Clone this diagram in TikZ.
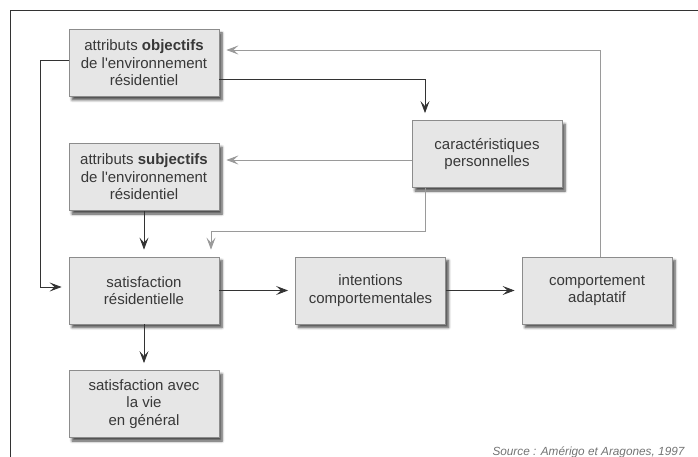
\documentclass[tikz,border=0pt]{standalone}
\usepackage{fontspec}
\setmainfont{Liberation Sans}[Ligatures=TeXOff]
\usetikzlibrary{arrows.meta,shadows,shadows.blur}
\definecolor{boxfill}{HTML}{E6E6E6}
\definecolor{boxdraw}{HTML}{8C8C8C}
\definecolor{txt}{HTML}{383838}
\definecolor{darkline}{HTML}{333333}
\definecolor{lightline}{HTML}{9A9A9A}
\tikzset{
  box/.style={draw=boxdraw, line width=0.8pt, fill=boxfill, minimum width=150pt, minimum height=67pt,
    align=center, text=txt, inner sep=2pt,
    font=\fontsize{15}{17.5}\selectfont,
    blur shadow={shadow xshift=3pt, shadow yshift=-3.5pt, shadow blur steps=6, shadow opacity=70, shadow blur radius=2.5pt}},
  conn/.style={draw=darkline, line width=0.8pt, -{Stealth[length=12pt,width=9pt,inset=5pt]}, shorten >=7pt},
  connl/.style={conn, draw=lightline}
}
\begin{document}
\begin{tikzpicture}[x=1pt,y=-1pt]
\useasboundingbox (0,0) rectangle (698,457);
\draw[darkline, line width=0.9pt] (10,457) -- (10,10) -- (698,10);

\node[box] (obj) at (144,63) {attributs \textbf{objectifs}\\de l'environnement\\résidentiel};
\node[box] (subj) at (144,177) {attributs \textbf{subjectifs}\\de l'environnement\\résidentiel};
\node[box] (car) at (487,154) {caractéristiques\\personnelles};
\node[box] (sat) at (144,290.5) {satisfaction\\résidentielle};
\node[box] (int) at (370.5,290.5) {intentions\\comportementales};
\node[box] (comp) at (597,290.5) {comportement\\adaptatif};
\node[box] (vie) at (144,404) {satisfaction avec\\la vie\\en général};

\node[anchor=east, text=black!55, font=\fontsize{11.8}{13}\selectfont\itshape] (src) at (688,452) {Source : Amérigo et Aragones, 1997};

\draw[conn] ([yshift=3pt]obj.west) -- ++(-28pt,0) |- ([yshift=3.5pt]sat.west);
\draw[conn] ([yshift=-16pt]obj.east) -| ([xshift=-62pt]car.north);
\draw[connl] ([yshift=-6pt]car.west) -- ([yshift=17pt]subj.east);
\draw[connl] ([xshift=-62pt]car.south) -- ++(0,-43pt) -| ([xshift=67pt]sat.north);
\draw[conn] (subj.south) -- (sat.north);
\draw[conn] (sat.east) -- (int.west);
\draw[conn] (int.east) -- (comp.west);
\draw[connl] ([xshift=3pt]comp.north) |- ([yshift=13pt]obj.east);
\draw[conn] (sat.south) -- (vie.north);
\end{tikzpicture}
\end{document}
